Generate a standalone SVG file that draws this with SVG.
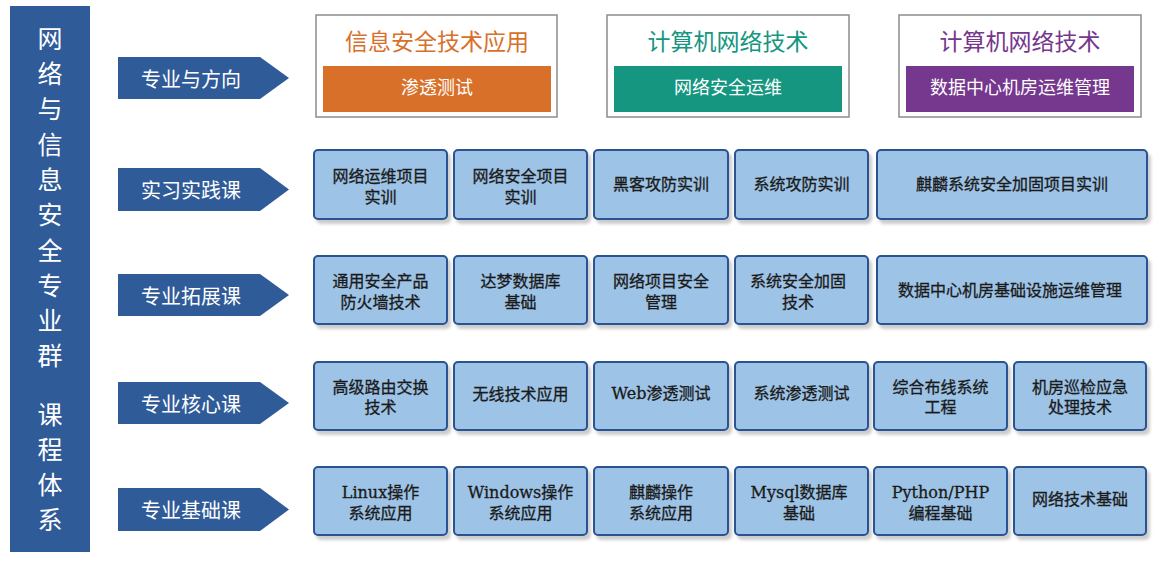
<svg xmlns="http://www.w3.org/2000/svg" width="1160" height="561" viewBox="0 0 1160 561">
<style>
.side{fill:#2F5B99}
.vt{font-family:"Noto Sans CJK SC",sans-serif;font-size:25px;fill:#fff;text-anchor:middle;dominant-baseline:central}
.arr{fill:#2F5B99}
.at{font-family:"Noto Sans CJK SC",sans-serif;font-size:20px;fill:#fff;text-anchor:middle;dominant-baseline:central}
.tb{fill:#fff;stroke:#8c8c8c;stroke-width:1.5}
.tt{font-family:"Liberation Serif","Noto Sans CJK SC",serif;font-size:23px;text-anchor:middle;dominant-baseline:central}
.it{font-family:"Liberation Serif","Noto Sans CJK SC",serif;font-size:18px;fill:#fff;text-anchor:middle;dominant-baseline:central}
.cb{fill:#9DC3E6;stroke:#2A5293;stroke-width:2;filter:url(#sh)}
.ct{font-family:"DejaVu Serif","Noto Sans CJK SC",serif;font-size:16px;fill:#1a1a1a;stroke:#1a1a1a;stroke-width:0.3;text-anchor:middle;dominant-baseline:central}
</style>
<defs>
<filter id="sh" x="-10%" y="-10%" width="125%" height="135%">
<feDropShadow dx="3" dy="4" stdDeviation="1.5" flood-color="#7f7f7f" flood-opacity="0.4"/>
</filter>
</defs>
<rect width="1160" height="561" fill="#fff"/>
<g id="side">
<rect class="side" x="10" y="6" width="80" height="546"/>
<text class="vt"><tspan x="50" y="37">网</tspan><tspan x="50" y="72">络</tspan><tspan x="50" y="107">与</tspan><tspan x="50" y="143">信</tspan><tspan x="50" y="178">息</tspan><tspan x="50" y="213">安</tspan><tspan x="50" y="249">全</tspan><tspan x="50" y="284">专</tspan><tspan x="50" y="319">业</tspan><tspan x="50" y="354">群</tspan><tspan x="50" y="413">课</tspan><tspan x="50" y="448">程</tspan><tspan x="50" y="483">体</tspan><tspan x="50" y="518">系</tspan></text>
</g>
<g id="labels">
<g id="lab1"><polygon class="arr" points="118,57 260,57 289,78 260,99 118,99"/><text class="at" x="191" y="78">专业与方向</text></g>
<g id="lab2"><polygon class="arr" points="118,168 260,168 289,189.5 260,211 118,211"/><text class="at" x="191" y="189.5">实习实践课</text></g>
<g id="lab3"><polygon class="arr" points="118,274 260,274 289,295 260,316 118,316"/><text class="at" x="191" y="295">专业拓展课</text></g>
<g id="lab4"><polygon class="arr" points="118,382 260,382 289,403 260,424 118,424"/><text class="at" x="191" y="403">专业核心课</text></g>
<g id="lab5"><polygon class="arr" points="118,488 260,488 289,509.5 260,531 118,531"/><text class="at" x="191" y="509.5">专业基础课</text></g>
</g>
<g id="directions">
<g id="dir1"><rect class="tb" x="316" y="15" width="241" height="102"/><text class="tt" x="437" y="42" fill="#D9702A">信息安全技术应用</text><rect x="323" y="66" width="228" height="46" fill="#D9702A"/><text class="it" x="437" y="88">渗透测试</text></g>
<g id="dir2"><rect class="tb" x="607" y="15" width="242" height="102"/><text class="tt" x="728" y="42" fill="#159680">计算机网络技术</text><rect x="614" y="66" width="228" height="46" fill="#159680"/><text class="it" x="728" y="88">网络安全运维</text></g>
<g id="dir3"><rect class="tb" x="899" y="15" width="242" height="102"/><text class="tt" x="1020" y="42" fill="#76378E">计算机网络技术</text><rect x="906" y="66" width="228" height="46" fill="#76378E"/><text class="it" x="1020" y="88">数据中心机房运维管理</text></g>
</g>
<g id="practice">
<g id="p1"><rect class="cb" x="314" y="150" width="133" height="69" rx="4"/><text class="ct" x="380.5" y="176">网络运维项目</text><text class="ct" x="380.5" y="197">实训</text></g>
<g id="p2"><rect class="cb" x="454" y="150" width="133" height="69" rx="4"/><text class="ct" x="520.5" y="176">网络安全项目</text><text class="ct" x="520.5" y="197">实训</text></g>
<g id="p3"><rect class="cb" x="594" y="150" width="134" height="69" rx="4"/><text class="ct" x="661" y="184.5">黑客攻防实训</text></g>
<g id="p4"><rect class="cb" x="735" y="150" width="133" height="69" rx="4"/><text class="ct" x="801.5" y="184.5">系统攻防实训</text></g>
<g id="p5"><rect class="cb" x="877" y="150" width="270" height="69" rx="4"/><text class="ct" x="1012" y="184.5">麒麟系统安全加固项目实训</text></g>
</g>
<g id="extend">
<g id="e1"><rect class="cb" x="314" y="256" width="133" height="68" rx="4"/><text class="ct" x="380.5" y="281">通用安全产品</text><text class="ct" x="380.5" y="302">防火墙技术</text></g>
<g id="e2"><rect class="cb" x="454" y="256" width="133" height="68" rx="4"/><text class="ct" x="520.5" y="281">达梦数据库</text><text class="ct" x="520.5" y="302">基础</text></g>
<g id="e3"><rect class="cb" x="594" y="256" width="134" height="68" rx="4"/><text class="ct" x="661" y="281">网络项目安全</text><text class="ct" x="661" y="302">管理</text></g>
<g id="e4"><rect class="cb" x="735" y="256" width="133" height="68" rx="4"/><text class="ct" x="798" y="281">系统安全加固</text><text class="ct" x="798" y="302">技术</text></g>
<g id="e5"><rect class="cb" x="877" y="256" width="270" height="68" rx="4"/><text class="ct" x="1010" y="290">数据中心机房基础设施运维管理</text></g>
</g>
<g id="core">
<g id="k1"><rect class="cb" x="314" y="362" width="133" height="68" rx="4"/><text class="ct" x="380.5" y="387">高级路由交换</text><text class="ct" x="380.5" y="407">技术</text></g>
<g id="k2"><rect class="cb" x="454" y="362" width="133" height="68" rx="4"/><text class="ct" x="520.5" y="394">无线技术应用</text></g>
<g id="k3"><rect class="cb" x="594" y="362" width="134" height="68" rx="4"/><text class="ct" x="661" y="393">Web渗透测试</text></g>
<g id="k4"><rect class="cb" x="735" y="362" width="133" height="68" rx="4"/><text class="ct" x="801.5" y="393">系统渗透测试</text></g>
<g id="k5"><rect class="cb" x="874" y="362" width="133" height="68" rx="4"/><text class="ct" x="940.5" y="387">综合布线系统</text><text class="ct" x="940.5" y="407">工程</text></g>
<g id="k6"><rect class="cb" x="1014" y="362" width="132" height="68" rx="4"/><text class="ct" x="1080" y="387">机房巡检应急</text><text class="ct" x="1080" y="407">处理技术</text></g>
</g>
<g id="basic">
<g id="b1"><rect class="cb" x="314" y="467" width="133" height="68" rx="4"/><text class="ct" x="380.5" y="492">Linux操作</text><text class="ct" x="380.5" y="513">系统应用</text></g>
<g id="b2"><rect class="cb" x="454" y="467" width="133" height="68" rx="4"/><text class="ct" x="520.5" y="492">Windows操作</text><text class="ct" x="520.5" y="513">系统应用</text></g>
<g id="b3"><rect class="cb" x="594" y="467" width="134" height="68" rx="4"/><text class="ct" x="661" y="492">麒麟操作</text><text class="ct" x="661" y="513">系统应用</text></g>
<g id="b4"><rect class="cb" x="735" y="467" width="133" height="68" rx="4"/><text class="ct" x="799" y="492">Mysql数据库</text><text class="ct" x="799" y="513">基础</text></g>
<g id="b5"><rect class="cb" x="874" y="467" width="133" height="68" rx="4"/><text class="ct" x="940.5" y="492">Python/PHP</text><text class="ct" x="940.5" y="513">编程基础</text></g>
<g id="b6"><rect class="cb" x="1014" y="467" width="132" height="68" rx="4"/><text class="ct" x="1080" y="499">网络技术基础</text></g>
</g>
<g id="connectors"/>
</svg>
